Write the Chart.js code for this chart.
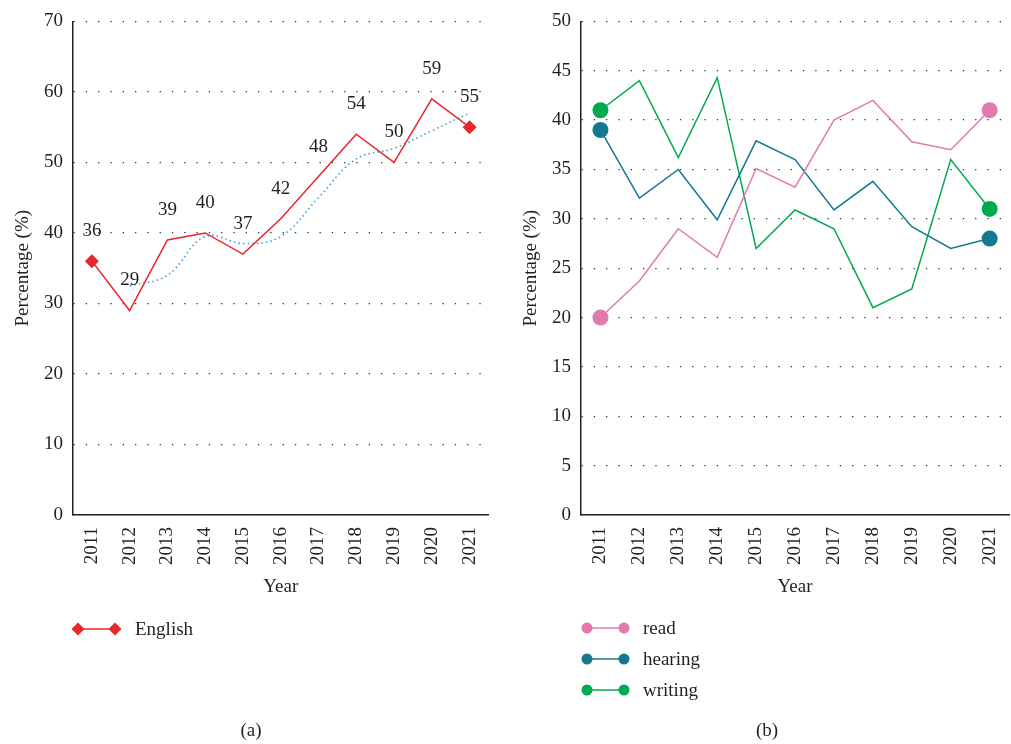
<!DOCTYPE html>
<html>
<head>
<meta charset="utf-8">
<script src="https://cdn.jsdelivr.net/npm/chart.js@4.4.1/dist/chart.umd.min.js"></script>
<style>
  html, body { margin: 0; padding: 0; width: 1011px; height: 744px; overflow: hidden; background: #ffffff; }
  #panelA { position: absolute; left: 0; top: 0; width: 505px; height: 744px; }
  #panelB { position: absolute; left: 505px; top: 0; width: 520px; height: 744px; }
</style>
</head>
<body>
<div id="panelA"><canvas id="chartA" width="505" height="744"></canvas></div>
<div id="panelB"><canvas id="chartB" width="520" height="744"></canvas></div>
<script>
// ---- data ----
const years = ['2011', '2012', '2013', '2014', '2015', '2016', '2017', '2018', '2019', '2020', '2021'];

const englishValues = [36, 29, 39, 40, 37, 42, 48, 54, 50, 59, 55];
const englishTrend = [null, 32.5, 34, 39.5, 38.5, 39.5, 45, 50.5, 52, 54.5, 57];

const readValues = [20, 23.7, 29, 26.1, 35.1, 33.2, 40, 42, 37.8, 37, 41];
const hearingValues = [39, 32.1, 35, 29.9, 37.9, 36, 30.9, 33.8, 29.2, 27, 28];
const writingValues = [41, 44, 36.2, 44.3, 27, 30.9, 29, 21, 22.9, 36, 31];

const ticksA = [0, 10, 20, 30, 40, 50, 60, 70];
const ticksB = [0, 5, 10, 15, 20, 25, 30, 35, 40, 45, 50];

// ---- styling ----
const SERIF = "'Liberation Serif', 'DejaVu Serif', serif";
const INK = '#231f20';
const RED = '#e8262b';
const TREND = '#3ba7e0';
const PINK = '#e27bad';
const TEAL = '#14798f';
const GREEN = '#00ab4f';

Chart.defaults.font.family = SERIF;
Chart.defaults.color = INK;

const endsOnly = (r) => (ctx) => (ctx.dataIndex === 0 || ctx.dataIndex === years.length - 1) ? r : 0;

function yScale(tickValues, yWidth, titlePadTop) {
  return {
    type: 'linear',
    min: tickValues[0],
    max: tickValues[tickValues.length - 1],
    afterBuildTicks: (s) => { s.ticks = tickValues.map(v => ({ value: v })); },
    afterFit: (s) => { s.width = yWidth; },
    ticks: { font: { size: 19 }, color: INK, padding: 10 },
    grid: { display: true, drawTicks: false, color: '#333333', lineWidth: 1.3 },
    border: { display: true, color: INK, width: 1.5, dash: [1.3, 11] },
    title: { display: true, text: 'Percentage (%)', font: { size: 19 }, color: INK, padding: { top: titlePadTop, bottom: 0 } }
  };
}

function xScale() {
  return {
    type: 'category',
    offset: true,
    afterFit: (s) => { s.height = 83; },
    ticks: { font: { size: 19 }, color: INK, padding: 12, minRotation: 90, maxRotation: 90, autoSkip: false },
    grid: { display: false, drawTicks: false },
    border: { display: true, color: INK, width: 1.5 },
    title: { display: true, text: 'Year', font: { size: 19 }, color: INK, padding: { top: 0, bottom: 0 } }
  };
}

function drawMarker(ctx, style, x, y, r, color) {
  ctx.save();
  ctx.fillStyle = color;
  ctx.beginPath();
  if (style === 'diamond') {
    ctx.moveTo(x - r, y); ctx.lineTo(x, y - r); ctx.lineTo(x + r, y); ctx.lineTo(x, y + r); ctx.closePath();
  } else {
    ctx.arc(x, y, r, 0, Math.PI * 2);
  }
  ctx.fill();
  ctx.restore();
}

// Legend rows and panel caption, drawn under the plot
const panelExtras = {
  id: 'panelExtras',
  afterDraw(chart, args, opts) {
    const ctx = chart.ctx;
    ctx.save();
    ctx.font = '19px ' + SERIF;
    ctx.textBaseline = 'middle';
    opts.items.forEach((it) => {
      ctx.strokeStyle = it.color;
      ctx.lineWidth = 1.5;
      ctx.beginPath(); ctx.moveTo(it.x1, it.y); ctx.lineTo(it.x2, it.y); ctx.stroke();
      drawMarker(ctx, it.marker, it.x1, it.y, it.r, it.color);
      drawMarker(ctx, it.marker, it.x2, it.y, it.r, it.color);
      ctx.fillStyle = INK;
      ctx.textAlign = 'left';
      ctx.fillText(it.label, it.tx, it.y + 1);
    });
    ctx.textAlign = 'center';
    ctx.fillStyle = INK;
    ctx.fillText(opts.caption, opts.captionX, opts.captionY);
    ctx.restore();
  }
};

// Value labels above the English points
const valueLabels = {
  id: 'valueLabels',
  afterDatasetsDraw(chart, args, opts) {
    if (!opts.enabled) return;
    const meta = chart.getDatasetMeta(opts.datasetIndex);
    const ctx = chart.ctx;
    ctx.save();
    ctx.font = '19px ' + SERIF;
    ctx.fillStyle = INK;
    ctx.textAlign = 'center';
    ctx.textBaseline = 'middle';
    meta.data.forEach((pt, i) => {
      ctx.fillText(String(englishValues[i]), pt.x, pt.y - 30);
    });
    ctx.restore();
  }
};

new Chart(document.getElementById('chartA'), {
  type: 'line',
  data: {
    labels: years,
    datasets: [
      {
        label: 'English',
        data: englishValues,
        borderColor: RED,
        backgroundColor: RED,
        borderWidth: 1.5,
        tension: 0,
        pointStyle: 'rectRot',
        pointRadius: endsOnly(7),
        pointBorderWidth: 0,
        order: 1
      },
      {
        label: 'trend',
        data: englishTrend,
        borderColor: TREND,
        borderWidth: 1.6,
        borderDash: [1.6, 3],
        tension: 0.4,
        pointRadius: 0,
        spanGaps: false,
        order: 2
      }
    ]
  },
  options: {
    responsive: false,
    animation: false,
    events: [],
    layout: { padding: { left: 0, top: 15, right: 14, bottom: 146 } },
    scales: { x: xScale(), y: yScale(ticksA, 73, 12) },
    plugins: {
      legend: { display: false },
      tooltip: { enabled: false },
      valueLabels: { enabled: true, datasetIndex: 0 },
      panelExtras: {
        items: [{ label: 'English', color: RED, marker: 'diamond', r: 6.5, x1: 78, x2: 115, tx: 135, y: 629 }],
        caption: '(a)', captionX: 251, captionY: 731
      }
    }
  },
  plugins: [valueLabels, panelExtras]
});

new Chart(document.getElementById('chartB'), {
  type: 'line',
  data: {
    labels: years,
    datasets: [
      { label: 'read', data: readValues, borderColor: PINK, backgroundColor: PINK },
      { label: 'hearing', data: hearingValues, borderColor: TEAL, backgroundColor: TEAL },
      { label: 'writing', data: writingValues, borderColor: GREEN, backgroundColor: GREEN }
    ].map(d => Object.assign(d, {
      borderWidth: 1.5,
      tension: 0,
      pointStyle: 'circle',
      pointRadius: endsOnly(8),
      pointBorderWidth: 0
    }))
  },
  options: {
    responsive: false,
    animation: false,
    events: [],
    layout: { padding: { left: 0, top: 15, right: 12, bottom: 146 } },
    scales: { x: xScale(), y: yScale(ticksB, 76, 15) },
    plugins: {
      legend: { display: false },
      tooltip: { enabled: false },
      valueLabels: { enabled: false },
      panelExtras: {
        items: [
          { label: 'read', color: PINK, marker: 'circle', r: 5.5, x1: 82, x2: 119, tx: 138, y: 628 },
          { label: 'hearing', color: TEAL, marker: 'circle', r: 5.5, x1: 82, x2: 119, tx: 138, y: 659 },
          { label: 'writing', color: GREEN, marker: 'circle', r: 5.5, x1: 82, x2: 119, tx: 138, y: 690 }
        ],
        caption: '(b)', captionX: 262, captionY: 731
      }
    }
  },
  plugins: [valueLabels, panelExtras]
});
</script>
</body>
</html>
